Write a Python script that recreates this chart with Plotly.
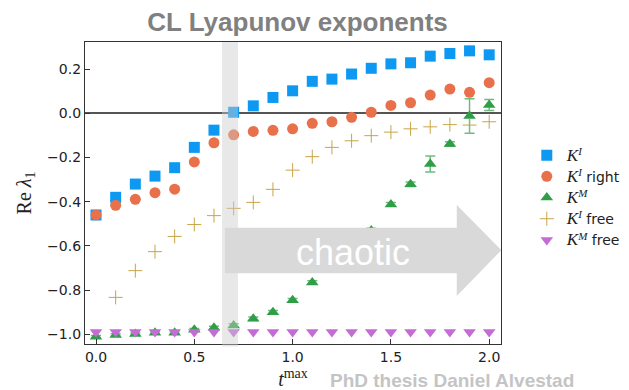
import plotly.graph_objects as go

# ---------------- data ----------------
t_max = [0.0, 0.1, 0.2, 0.3, 0.4, 0.5, 0.6, 0.7, 0.8, 0.9, 1.0,
         1.1, 1.2, 1.3, 1.4, 1.5, 1.6, 1.7, 1.8, 1.9, 2.0]

k_i = [-0.46, -0.38, -0.32, -0.284, -0.246, -0.154, -0.076, 0.005, 0.034, 0.072, 0.102,
       0.145, 0.155, 0.178, 0.204, 0.224, 0.229, 0.259, 0.271, 0.283, 0.265]

k_i_right = [-0.46, -0.416, -0.389, -0.359, -0.343, -0.22, -0.133, -0.097, -0.082, -0.077, -0.07,
             -0.045, -0.038, -0.018, 0.005, 0.036, 0.048, 0.083, 0.11, 0.095, 0.139]

k_m = [-1.011, -1.003, -0.999, -0.993, -0.993, -0.98, -0.97, -0.96, -0.93, -0.90, -0.846,
       -0.766, -0.70, -0.62, -0.53, -0.412, -0.321, -0.229, -0.139, -0.012, 0.038]
k_m_err = [0.005, 0.005, 0.005, 0.005, 0.005, 0.006, 0.006, 0.008, 0.008, 0.008, 0.008,
           0.008, 0.01, 0.01, 0.01, 0.008, 0.01, 0.036, 0.01, 0.078, 0.025]

t_free = t_max[1:]
k_i_free = [-0.833, -0.712, -0.626, -0.557, -0.503, -0.463, -0.43, -0.403, -0.344, -0.257,
            -0.196, -0.154, -0.124, -0.101, -0.085, -0.07, -0.061, -0.051, -0.053, -0.038]

k_m_free = [-0.99] * len(t_max)

K = "<span style='font-family:Liberation Serif;font-size:17px'><i>K</i></span>"
SUP_I = "<sup><span style='font-family:Liberation Serif;font-size:11px'><i>I</i></span></sup>"
SUP_M = "<sup><span style='font-family:Liberation Serif;font-size:11px'><i>M</i></span></sup>"
names = [
    K + SUP_I,
    K + SUP_I + " right",
    K + SUP_M,
    K + SUP_I + " free",
    K + SUP_M + " free",
]
colors = ["#0d99f2", "#e8704a", "#2f9f47", "#c9a448", "#c46bd6"]

# highlighted region (layout decoration)
band = (0.641, 0.722)

fig = go.Figure()
fig.add_trace(go.Scatter(x=t_max, y=k_i, mode="markers", name=names[0],
                         marker=dict(symbol="square", size=11, color=colors[0])))
fig.add_trace(go.Scatter(x=t_max, y=k_i_right, mode="markers", name=names[1],
                         marker=dict(symbol="circle", size=11, color=colors[1])))
fig.add_trace(go.Scatter(x=t_max, y=k_m, mode="markers", name=names[2],
                         marker=dict(symbol="triangle-up", size=11, color=colors[2]),
                         error_y=dict(type="data", array=k_m_err, color="rgba(47,159,71,0.7)",
                                      thickness=1.5, width=5)))
fig.add_trace(go.Scatter(x=t_free, y=k_i_free, mode="markers", name=names[3],
                         marker=dict(symbol="cross-thin", size=10, color=colors[3],
                                     line=dict(width=1, color=colors[3]))))
fig.add_trace(go.Scatter(x=t_max, y=k_m_free, mode="markers", name=names[4],
                         marker=dict(symbol="triangle-down", size=11, color=colors[4])))

# grey band
fig.add_shape(type="rect", xref="x", yref="paper", x0=band[0], x1=band[1], y0=-0.008, y1=1,
              fillcolor="rgba(205,205,205,0.45)", line=dict(width=0), layer="above")
# chaotic arrow
fig.add_shape(type="path", xref="x", yref="y",
              path="M 0.656,-0.518 L 1.835,-0.518 L 1.835,-0.415 L 2.062,-0.619 "
                   "L 1.835,-0.827 L 1.835,-0.724 L 0.656,-0.724 Z",
              fillcolor="#d9d9d9", line=dict(width=0), layer="above")
fig.add_annotation(x=1.305, y=-0.628, xref="x", yref="y", text="chaotic", showarrow=False,
                   xanchor="center", yanchor="middle",
                   font=dict(family="Liberation Sans, Arial", size=36, color="white"))

fig.add_annotation(x=0.883, y=-0.1225, xref="paper", yref="paper",
                   xanchor="center", yanchor="middle",
                   text="<b>PhD thesis Daniel Alvestad</b>", showarrow=False,
                   font=dict(family="Liberation Sans, Arial", size=19, color="#c4c4c4"))

fig.update_layout(
    width=629, height=390,
    margin=dict(l=85, r=128, t=42, b=46, autoexpand=False),
    paper_bgcolor="white", plot_bgcolor="white",
    title=dict(text="<b>CL Lyapunov exponents</b>", x=0.473, xanchor="center",
               y=0.945, yanchor="middle",
               font=dict(family="Liberation Sans, Arial", size=26, color="#808080")),
    showlegend=True,
    legend=dict(x=1.062, xanchor="left", y=0.485, yanchor="middle",
                font=dict(family="DejaVu Sans", size=14, color="#222"),
                bgcolor="rgba(0,0,0,0)", itemwidth=30, tracegroupgap=0),
)
fig.update_xaxes(range=[-0.056, 2.06], tickvals=[0.0, 0.5, 1.0, 1.5, 2.0],
                 ticktext=["0.0", "0.5", "1.0", "1.5", "2.0"],
                 ticks="inside", ticklen=5, tickwidth=1, tickcolor="#333",
                 showline=True, linecolor="#333", linewidth=1.3, mirror=True,
                 showgrid=False, zeroline=False,
                 tickfont=dict(family="DejaVu Sans", size=14, color="#222"),
                 title=dict(text="<i>t</i><sup>max</sup>", standoff=8,
                            font=dict(family="Liberation Serif", size=20, color="#222")))
fig.update_yaxes(range=[-1.044, 0.323], tickvals=[0.2, 0.0, -0.2, -0.4, -0.6, -0.8, -1.0],
                 ticktext=["0.2", "0.0", "\u22120.2", "\u22120.4", "\u22120.6", "\u22120.8", "\u22121.0"],
                 ticks="inside", ticklen=5, tickwidth=1, tickcolor="#333",
                 showline=True, linecolor="#333", linewidth=1.3, mirror=True,
                 showgrid=False, zeroline=True, zerolinecolor="#555", zerolinewidth=1.6,
                 tickfont=dict(family="DejaVu Sans", size=14, color="#222"),
                 title=dict(text="Re <i>λ</i><sub>1</sub>", standoff=10,
                            font=dict(family="Liberation Serif", size=20, color="#222")))

fig.write_html("out.html")
